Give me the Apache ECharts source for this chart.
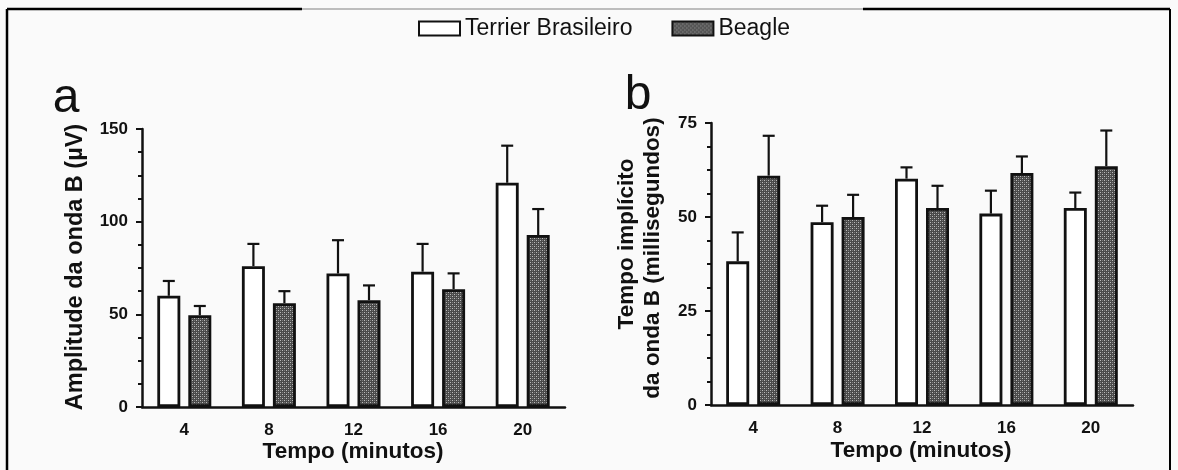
<!DOCTYPE html>
<html>
<head>
<meta charset="utf-8">
<script src="https://cdn.jsdelivr.net/npm/echarts@6/dist/echarts.min.js"></script>
<style>
  html, body { margin: 0; padding: 0; background: #fafafa; }
  #chart { width: 1178px; height: 470px; }
</style>
</head>
<body>
<div id="chart"></div>
<script>
// Time points (minutes)
const categories = ['4', '8', '12', '16', '20'];

// Panel a: B-wave amplitude (µV), mean and upper SD
const ampTerrier    = [60, 76, 72, 73, 121];
const ampTerrierErr = [8, 12, 18, 15, 20];
const ampBeagle     = [49.5, 56, 57.6, 63.6, 92.8];
const ampBeagleErr  = [5, 6.5, 8, 8.5, 14];

// Panel b: B-wave implicit time (ms), mean and upper SD
const latTerrier    = [38.2, 48.6, 60.2, 50.9, 52.4];
const latTerrierErr = [7.7, 4.4, 3, 6.1, 4.1];
const latBeagle     = [61, 50, 52.4, 61.7, 63.5];
const latBeagleErr  = [10.6, 5.9, 5.9, 4.4, 9.5];

const seriesNames = ['Terrier Brasileiro', 'Beagle'];

// Fine dotted texture for the Beagle bars
function makeDots() {
  const c = document.createElement('canvas');
  c.width = 4; c.height = 4;
  const g = c.getContext('2d');
  g.fillStyle = '#4a4a4a';
  g.fillRect(0, 0, 4, 4);
  g.fillStyle = '#bcbcbc';
  g.fillRect(0, 0, 1, 1);
  g.fillRect(2, 2, 1, 1);
  g.fillStyle = '#7c7c7c';
  g.fillRect(2, 0, 1, 1);
  g.fillRect(0, 2, 1, 1);
  return c;
}
const dotFill = { image: makeDots(), repeat: 'repeat' };

const FONT = 'Liberation Sans';
const BAR_W = 23;
const GAP_PX = 8;
const HALF = (BAR_W + GAP_PX) / 2;

const whiteStyle = { color: '#ffffff', borderColor: '#111', borderWidth: 2.8 };
const dotStyle = { color: dotFill, borderColor: '#111', borderWidth: 2.8 };

function errRender(offset) {
  return function (params, api) {
    const i = api.value(0), v = api.value(1), e = api.value(2);
    const base = api.coord([i, v]);
    const top = api.coord([i, v + e]);
    const x = base[0] + offset;
    const s = { stroke: '#111', lineWidth: 2.2 };
    return {
      type: 'group',
      children: [
        { type: 'line', shape: { x1: x, y1: base[1], x2: x, y2: top[1] }, style: s },
        { type: 'line', shape: { x1: x - 6, y1: top[1], x2: x + 6, y2: top[1] }, style: s }
      ]
    };
  };
}

function errData(vals, errs) {
  return vals.map((v, i) => [i, v, errs[i]]);
}

function yAxisCfg(gridIndex, max, interval) {
  return {
    type: 'value', gridIndex, min: 0, max, interval,
    splitLine: { show: false },
    axisLine: { show: true, lineStyle: { color: '#111', width: 2.5 } },
    axisTick: { show: true, length: 6, lineStyle: { color: '#111', width: 2 } },
    minorTick: { show: true, splitNumber: 4, length: 4, lineStyle: { color: '#111', width: 2 } },
    axisLabel: { color: '#111', fontFamily: FONT, fontWeight: 'bold', fontSize: 17, margin: 14 }
  };
}

function xAxisCfg(gridIndex) {
  return {
    type: 'category', gridIndex, data: categories,
    axisLine: { show: true, lineStyle: { color: '#111', width: 2.5 } },
    axisTick: { show: false },
    axisLabel: { color: '#111', fontFamily: FONT, fontWeight: 'bold', fontSize: 17, margin: 15 }
  };
}

function barSeries(name, idx, data, style) {
  return {
    name, type: 'bar', xAxisIndex: idx, yAxisIndex: idx, data,
    barWidth: BAR_W, barGap: (GAP_PX / BAR_W * 100) + '%',
    itemStyle: style, silent: true
  };
}

function errSeries(idx, vals, errs, offset) {
  return {
    type: 'custom', xAxisIndex: idx, yAxisIndex: idx,
    data: errData(vals, errs), renderItem: errRender(offset), silent: true, z: 3
  };
}

function title(text, x, y, size, rotated) {
  return {
    type: 'text', x, y, rotation: rotated ? Math.PI / 2 : 0,
    style: { text, fontFamily: FONT, fontWeight: 'bold', fontSize: size, fill: '#111', align: 'center', verticalAlign: 'middle' }
  };
}

const chart = echarts.init(document.getElementById('chart'), null, { renderer: 'canvas' });

chart.setOption({
  backgroundColor: '#fafafa',
  animation: false,
  legend: {
    data: seriesNames,
    left: 413, top: 12,
    icon: 'rect',
    itemWidth: 41, itemHeight: 14, itemGap: 39,
    textStyle: { fontFamily: FONT, fontSize: 23, color: '#111' }
  },
  grid: [
    { left: 142, top: 129, width: 423, height: 278 },
    { left: 711, top: 123, width: 422, height: 282 }
  ],
  xAxis: [xAxisCfg(0), xAxisCfg(1)],
  yAxis: [yAxisCfg(0, 150, 50), yAxisCfg(1, 75, 25)],
  series: [
    barSeries(seriesNames[0], 0, ampTerrier, whiteStyle),
    barSeries(seriesNames[1], 0, ampBeagle, dotStyle),
    errSeries(0, ampTerrier, ampTerrierErr, -HALF),
    errSeries(0, ampBeagle, ampBeagleErr, HALF),
    barSeries(seriesNames[0], 1, latTerrier, whiteStyle),
    barSeries(seriesNames[1], 1, latBeagle, dotStyle),
    errSeries(1, latTerrier, latTerrierErr, -HALF),
    errSeries(1, latBeagle, latBeagleErr, HALF)
  ],
  graphic: [
    // outer frame
    { type: 'line', shape: { x1: 7, y1: 9, x2: 302, y2: 9 }, style: { stroke: '#000', lineWidth: 2.5 } },
    { type: 'line', shape: { x1: 302, y1: 9, x2: 863, y2: 9 }, style: { stroke: '#bdbdbd', lineWidth: 2 } },
    { type: 'line', shape: { x1: 863, y1: 9, x2: 1170, y2: 9 }, style: { stroke: '#000', lineWidth: 2.5 } },
    { type: 'line', shape: { x1: 7, y1: 9, x2: 7, y2: 470 }, style: { stroke: '#000', lineWidth: 2.5 } },
    { type: 'line', shape: { x1: 1170, y1: 9, x2: 1170, y2: 470 }, style: { stroke: '#000', lineWidth: 2 } },
    // panel letters
    { type: 'text', x: 66, y: 99, style: { text: 'a', fontFamily: FONT, fontSize: 48, fill: '#111', align: 'center', verticalAlign: 'middle' } },
    { type: 'text', x: 638, y: 96, style: { text: 'b', fontFamily: FONT, fontSize: 48, fill: '#111', align: 'center', verticalAlign: 'middle' } },
    // axis titles
    title('Amplitude da onda B (µV)', 76, 267, 23.5, true),
    title('Tempo implícito', 627, 244, 22.5, true),
    title('da onda B (millisegundos)', 653, 258, 22.5, true),
    title('Tempo (minutos)', 353, 452, 22.5, false),
    title('Tempo (minutos)', 921, 451, 22.5, false)
  ]
});
</script>
</body>
</html>
